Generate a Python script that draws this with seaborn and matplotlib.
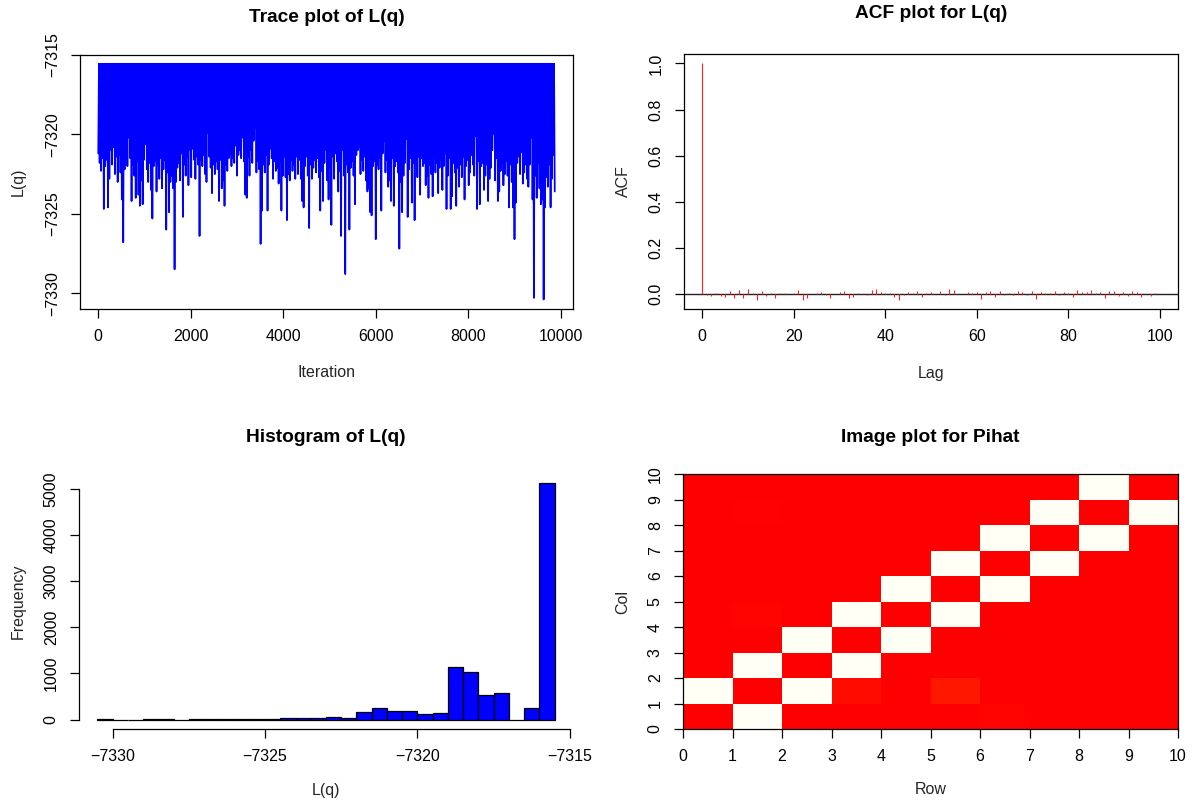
import numpy as np
import pandas as pd
import matplotlib
matplotlib.use("Agg")
import matplotlib.pyplot as plt
import seaborn as sns
from matplotlib.colors import LinearSegmentedColormap

# ---------------- data ----------------
# Trace plot: the chain sits at its maximum value most of the time and dips
# down between; the dips below are read off the lower envelope (every 30 iters).
L_TOP = -7315.55
trace_dips = [
    -7321.2, -7321.8, -7322.3, -7321.5, -7324.7, -7322.0, -7321.6, -7324.6, -7322.8, -7321.0,
    -7321.9, -7320.8, -7322.5, -7321.4, -7323.0, -7321.3, -7322.4, -7324.1, -7326.8, -7322.2,
    -7321.8, -7322.0, -7320.2, -7321.5, -7324.2, -7321.9, -7322.6, -7324.0, -7321.7, -7323.8,
    -7324.5, -7322.9, -7324.4, -7321.6, -7320.6, -7322.2, -7323.0, -7321.8, -7323.5, -7325.3,
    -7322.0, -7321.7, -7323.6, -7321.9, -7322.8, -7321.5, -7323.4, -7322.2, -7321.6, -7326.0,
    -7322.4, -7324.9, -7323.0, -7322.6, -7323.4, -7328.5, -7323.0, -7322.1, -7321.8, -7322.9,
    -7321.2, -7325.2, -7321.9, -7322.6, -7321.4, -7323.2, -7321.0, -7322.7, -7320.9, -7321.6,
    -7322.8, -7321.4, -7321.9, -7326.4, -7321.6, -7322.0, -7321.3, -7322.5, -7323.0, -7319.9,
    -7321.4, -7322.1, -7323.7, -7321.9, -7322.5, -7321.7, -7322.2, -7324.2, -7321.6, -7323.4,
    -7322.9, -7324.5, -7321.9, -7322.3, -7321.5, -7321.2, -7322.0, -7321.5, -7321.8, -7320.7,
    -7322.6, -7321.3, -7321.0, -7321.5, -7320.2, -7321.7, -7323.8, -7324.0, -7321.4, -7322.6,
    -7321.0, -7321.8, -7320.4, -7319.6, -7322.4, -7321.7, -7322.2, -7326.9, -7324.8, -7321.9,
    -7322.4, -7321.3, -7324.8, -7321.9, -7320.9, -7321.5, -7322.8, -7321.7, -7322.3, -7322.1,
    -7323.1, -7321.7, -7324.8, -7322.6, -7321.4, -7322.7, -7325.4, -7322.5, -7322.9, -7321.6,
    -7322.3, -7321.9, -7322.8, -7321.4, -7322.5, -7321.6, -7322.8, -7324.2, -7324.6, -7322.0,
    -7321.4, -7322.6, -7325.9, -7321.9, -7322.8, -7322.1, -7321.6, -7322.4, -7321.5, -7322.7,
    -7324.8, -7322.3, -7324.2, -7321.8, -7321.0, -7322.9, -7324.1, -7322.1, -7325.7, -7321.4,
    -7322.8, -7321.2, -7321.7, -7323.6, -7322.3, -7326.4, -7321.0, -7322.6, -7328.8, -7321.9,
    -7322.4, -7326.0, -7322.1, -7321.7, -7322.6, -7324.4, -7321.3, -7321.0, -7320.8, -7322.5,
    -7321.6, -7322.3, -7321.4, -7322.9, -7323.6, -7323.4, -7324.9, -7325.1, -7322.0, -7321.7,
    -7326.6, -7321.9, -7322.2, -7321.5, -7324.8, -7321.2, -7320.4, -7322.4, -7321.6, -7323.3,
    -7322.9, -7324.2, -7321.5, -7324.5, -7322.0, -7321.7, -7322.4, -7327.2, -7323.0, -7324.9,
    -7322.6, -7321.8, -7320.3, -7325.2, -7322.2, -7321.5, -7324.3, -7321.8, -7325.4, -7321.6,
    -7322.7, -7321.4, -7323.8, -7321.5, -7322.0, -7321.8, -7323.2, -7322.6, -7324.0, -7321.9,
    -7322.5, -7323.9, -7321.5, -7322.4, -7321.8, -7323.7, -7322.1, -7321.6, -7323.5, -7322.0,
    -7321.2, -7324.7, -7322.6, -7321.5, -7324.7, -7323.9, -7321.8, -7322.4, -7324.5, -7322.1,
    -7323.3, -7321.9, -7322.7, -7321.4, -7324.1, -7322.0, -7321.6, -7323.2, -7322.4, -7321.3,
    -7321.9, -7322.6, -7320.1, -7324.7, -7321.7, -7324.4, -7322.0, -7321.8, -7323.5, -7322.6,
    -7321.9, -7324.2, -7322.8, -7322.1, -7321.0, -7320.0, -7322.9, -7321.5, -7324.2, -7323.6,
    -7322.3, -7321.8, -7323.2, -7322.5, -7321.7, -7322.6, -7324.6, -7321.9, -7323.0, -7324.6,
    -7326.6, -7324.3, -7321.8, -7321.4, -7322.5, -7321.1, -7323.1, -7322.4, -7321.9, -7322.8,
    -7323.3, -7321.9, -7320.2, -7324.1, -7330.3, -7322.6, -7324.0, -7321.8, -7323.4, -7324.4,
    -7324.1, -7330.4, -7324.6, -7322.7, -7323.3, -7321.9, -7324.6, -7322.8, -7321.3, -7323.6,
]
TRACE_STEP = 15  # iterations between consecutive plotted points

# ACF values, lags 0..100
acf_vals = [
    1.0, -0.004, -0.010, 0.003, -0.008, -0.012, 0.010, -0.018, 0.015, -0.018,
    0.020, 0.004, -0.028, 0.012, -0.010, 0.005, -0.018, 0.002, 0.003, -0.002,
    0.004, 0.016, -0.026, -0.019, -0.003, 0.004, 0.006, -0.004, -0.018, -0.003,
    0.008, 0.014, -0.020, -0.012, 0.002, -0.003, -0.006, 0.016, 0.020, 0.006,
    0.002, 0.005, -0.013, -0.028, -0.006, 0.007, 0.004, 0.010, -0.014, 0.002,
    0.007, -0.002, 0.010, -0.004, 0.020, 0.015, -0.003, -0.002, 0.006, 0.004,
    0.006, -0.023, 0.006, 0.012, -0.013, 0.014, -0.006, 0.003, -0.004, 0.014,
    0.008, -0.006, 0.012, -0.022, 0.006, 0.003, 0.002, 0.014, -0.004, 0.007,
    0.003, -0.012, 0.015, 0.008, 0.006, 0.016, 0.002, 0.007, -0.020, 0.010,
    0.012, -0.008, 0.006, -0.011, 0.012, 0.006, -0.012, -0.002, -0.009, 0.003,
    -0.003,
]

# Histogram: 30 bins of width 0.5 from -7330.5 to -7315.5
hist_start = -7330.5
hist_width = 0.5
hist_counts = [2, 0, 1, 3, 2, 1, 3, 4, 6, 8,
               10, 18, 25, 36, 36, 51, 36, 167, 261, 181,
               181, 116, 152, 1130, 1029, 530, 565, 0, 261, 5116]

# Pihat matrix (row index -> x, column index -> y)
pihat = [
    [0.0, 1.0, 0.0, 0.0, 0.0, 0.0, 0.0, 0.0, 0.0, 0.0],
    [0.5, 0.0, 0.5, 0.0, 0.008, 0.0, 0.0, 0.0, 0.003, 0.0],
    [0.0, 0.5, 0.0, 0.5, 0.0, 0.0, 0.0, 0.0, 0.0, 0.0],
    [0.0, 0.025, 0.5, 0.0, 0.5, 0.0, 0.0, 0.0, 0.0, 0.0],
    [0.0, 0.0, 0.0, 0.5, 0.0, 0.5, 0.0, 0.0, 0.0, 0.0],
    [0.0, 0.045, 0.0, 0.0, 0.5, 0.0, 0.5, 0.0, 0.0, 0.0],
    [0.006, 0.0, 0.0, 0.0, 0.0, 0.5, 0.0, 0.5, 0.0, 0.0],
    [0.0, 0.0, 0.0, 0.0, 0.0, 0.0, 0.5, 0.0, 0.5, 0.0],
    [0.0, 0.0, 0.0, 0.0, 0.0, 0.0, 0.0, 0.5, 0.0, 0.5],
    [0.0, 0.0, 0.0, 0.0, 0.0, 0.0, 0.0, 0.0, 1.0, 0.0],
]

# ---------------- style ----------------
sns.set_style("ticks")
plt.rcParams["font.family"] = ["Liberation Sans", "DejaVu Sans"]
TICK_FS = 11.5
LABEL_FS = 11.5
TITLE_FS = 13.8
plt.rcParams.update({
    "axes.linewidth": 0.9,
    "axes.edgecolor": "black",
    "xtick.major.size": 6.5,
    "ytick.major.size": 6.5,
    "xtick.major.width": 0.9,
    "ytick.major.width": 0.9,
    "xtick.color": "black",
    "ytick.color": "black",
    "xtick.major.pad": 8,
    "ytick.major.pad": 8,
    "xtick.direction": "out",
    "ytick.direction": "out",
    "text.color": "black",
})

W, H = 1193, 801
fig = plt.figure(figsize=(W / 100, H / 100), dpi=100)
fig.patch.set_facecolor("white")


def add_ax(l, t, r, b):
    return fig.add_axes([l / W, 1 - b / H, (r - l) / W, (b - t) / H])


def decorate(ax, title, xlabel, ylabel, hpx, wpx, title_off=37, xl_off=63, yl_off=61):
    ax.set_title(title, fontsize=TITLE_FS, fontweight="bold", y=1 + title_off / hpx,
                 va="center", pad=0)
    ax.set_xlabel(xlabel, fontsize=LABEL_FS, va="center")
    ax.set_ylabel(ylabel, fontsize=LABEL_FS, va="center")
    ax.xaxis.set_label_coords(0.5, -xl_off / hpx)
    ax.yaxis.set_label_coords(-yl_off / wpx, 0.5)


def set_ticks(ax, xt, xl, yt, yl):
    ax.set_xticks(xt)
    ax.set_xticklabels(xl, fontsize=TICK_FS)
    ax.set_yticks(yt)
    ax.set_yticklabels(yl, fontsize=TICK_FS, rotation=90, va="center")


# ---------------- panel 1: trace ----------------
ax1 = add_ax(80, 55, 573, 309)
vals = []
for i, d in enumerate(trace_dips):
    if i > 0:
        vals.append(L_TOP)
    vals.append(d)
trace_df = pd.DataFrame({"Iteration": 1 + TRACE_STEP * np.arange(len(vals)), "Lq": vals})
sns.lineplot(data=trace_df, x="Iteration", y="Lq", ax=ax1, color="#0000FF",
             linewidth=1.25, estimator=None, sort=False)
nmax = trace_df["Iteration"].max()
pad = 0.04 * (nmax - 1)
ax1.set_xlim(1 - pad, nmax + pad)
ax1.set_ylim(-7331.0, -7315.0)
set_ticks(ax1, [0, 2000, 4000, 6000, 8000, 10000], ["0", "2000", "4000", "6000", "8000", "10000"],
          [-7330, -7325, -7320, -7315], ["\u22127330", "\u22127325", "\u22127320", "\u22127315"])
decorate(ax1, "Trace plot of L(q)", "Iteration", "L(q)", 254, 493, title_off=37, xl_off=63, yl_off=62)

# ---------------- panel 2: ACF ----------------
ax2 = add_ax(684, 54, 1178, 309)
lags = np.arange(len(acf_vals))
ax2.axhline(0, color="#222222", linewidth=1.0, zorder=1)
ax2.vlines(lags, 0, acf_vals, color="#FF2020", linewidth=0.8, zorder=2)
ax2.set_xlim(-4, 104)
ax2.set_ylim(-0.066, 1.041)
set_ticks(ax2, [0, 20, 40, 60, 80, 100], ["0", "20", "40", "60", "80", "100"],
          [0, 0.2, 0.4, 0.6, 0.8, 1.0], ["0.0", "0.2", "0.4", "0.6", "0.8", "1.0"])
decorate(ax2, "ACF plot for L(q)", "Lag", "ACF", 255, 494, title_off=40, xl_off=64, yl_off=61)

# ---------------- panel 3: histogram ----------------
ax3 = add_ax(79, 474, 573, 729)
edges = [hist_start + hist_width * k for k in range(len(hist_counts) + 1)]
centers = [(edges[k] + edges[k + 1]) / 2 for k in range(len(hist_counts))]
hist_df = pd.DataFrame({"Lq": centers, "count": hist_counts})
sns.histplot(data=hist_df, x="Lq", weights="count", bins=edges, ax=ax3,
             color="#0000FF", edgecolor="black", linewidth=0.9, alpha=1.0)
span = edges[-1] - edges[0]
ax3.set_xlim(edges[0] - 0.04 * span, edges[-1] + 0.04 * span)
ax3.set_ylim(-0.04 * max(hist_counts), 1.04 * max(hist_counts))
set_ticks(ax3, [-7330, -7325, -7320, -7315], ["\u22127330", "\u22127325", "\u22127320", "\u22127315"],
          [0, 1000, 2000, 3000, 4000, 5000], ["0", "1000", "2000", "3000", "4000", "5000"])
for s in ["top", "right"]:
    ax3.spines[s].set_visible(False)
ax3.spines["bottom"].set_bounds(-7330, -7315)
ax3.spines["left"].set_bounds(0, 5000)
decorate(ax3, "Histogram of L(q)", "L(q)", "Frequency", 255, 494, title_off=37, xl_off=61, yl_off=61)

# ---------------- panel 4: image ----------------
ax4 = add_ax(683, 474, 1178, 729)
cmap = LinearSegmentedColormap.from_list(
    "redwhite", [(0.0, "#FF0000"), (0.25, "#FF4000"), (1.0, "#FFFFF5")])
mat = np.array(pihat).T  # rows of displayed grid = column index (y)
sns.heatmap(mat, ax=ax4, cmap=cmap, vmin=0, vmax=0.5, cbar=False,
            xticklabels=False, yticklabels=False)
ax4.set_ylim(0, 10)
ax4.set_xlim(0, 10)
for s in ["top", "right", "bottom", "left"]:
    ax4.spines[s].set_visible(True)
    ax4.spines[s].set_linewidth(0.9)
ax4.tick_params(bottom=True, left=True, length=6.5, width=0.9)
set_ticks(ax4, list(range(11)), [str(i) for i in range(11)],
          list(range(11)), [str(i) for i in range(11)])
decorate(ax4, "Image plot for Pihat", "Row", "Col", 255, 495, title_off=36, xl_off=61, yl_off=60)

fig.savefig("out.png", dpi=100, facecolor="white")
